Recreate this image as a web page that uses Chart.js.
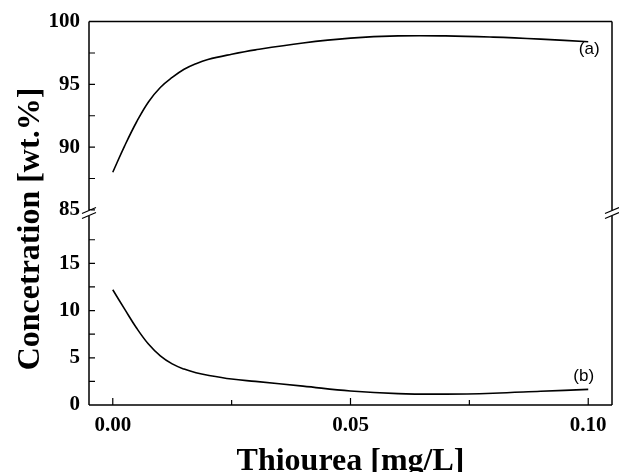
<!DOCTYPE html>
<html>
<head>
<meta charset="utf-8">
<script src="https://cdn.jsdelivr.net/npm/chart.js@4/dist/chart.umd.min.js"></script>
<style>
  body { margin: 0; background: #fff; }
  .chart-con { width: 619px; height: 472px; }
</style>
</head>
<body>
<div class="chart-con"><canvas id="chart"></canvas></div>
<script>
// thiourea dose [mg/L]
const thiourea = [0, 0.0025, 0.005, 0.0075, 0.01, 0.0125, 0.015, 0.0175, 0.02, 0.025, 0.03, 0.04, 0.05, 0.06, 0.07, 0.08, 0.09, 0.1]
// curve (a), upper panel [wt.%]
const curveA = [88.0, 90.1, 92.0, 93.6, 94.75, 95.55, 96.2, 96.65, 96.98, 97.4, 97.75, 98.3, 98.68, 98.86, 98.86, 98.76, 98.6, 98.4]
// curve (b), lower panel [wt.%]
const curveB = [12.2, 10.15, 8.15, 6.45, 5.2, 4.35, 3.8, 3.42, 3.15, 2.75, 2.5, 2.0, 1.48, 1.2, 1.15, 1.25, 1.45, 1.65]

const xTicks = [0, 0.025, 0.05, 0.075, 0.1]
const topTicks = [85, 87.5, 90, 92.5, 95, 97.5, 100]
const bottomTicks = [0, 2.5, 5, 7.5, 10, 12.5, 15, 17.5]

const tickFont = { family: "'Liberation Serif', 'Times New Roman', serif", size: 21, weight: 'bold' }

const framePlugin = {
  id: 'frame',
  afterDraw(chart) {
    const { ctx, chartArea: { left, right, top, bottom }, scales } = chart
    const xs = scales.x, yT = scales.yTop, yB = scales.yBot
    ctx.save()
    ctx.strokeStyle = '#000'
    ctx.lineWidth = 1.5

    // frame
    ctx.beginPath()
    ctx.moveTo(left, top); ctx.lineTo(right, top)
    ctx.moveTo(left, top); ctx.lineTo(left, bottom)
    ctx.moveTo(right, top); ctx.lineTo(right, bottom)
    ctx.moveTo(left, bottom); ctx.lineTo(right, bottom)
    ctx.stroke()

    // inward ticks
    ctx.lineWidth = 1.2
    ctx.beginPath()
    topTicks.forEach(v => { const y = yT.getPixelForValue(v); if (v < 100) { ctx.moveTo(left, y); ctx.lineTo(left + 6, y) } })
    bottomTicks.forEach(v => { const y = yB.getPixelForValue(v); if (v > 0) { ctx.moveTo(left, y); ctx.lineTo(left + 6, y) } })
    xTicks.forEach((v, i) => { const x = xs.getPixelForValue(v); const len = i % 2 ? 5 : 7; ctx.moveTo(x, bottom); ctx.lineTo(x, bottom - len) })
    ctx.stroke()

    // axis break marks
    const cy = (yT.getPixelForValue(85) + yB.getPixelForValue(20)) / 2
    ;[left, right].forEach(x => {
      ctx.fillStyle = '#fff'
      ctx.fillRect(x - 2, cy - 3, 4, 6)
      ctx.lineWidth = 1.2
      ctx.beginPath()
      ctx.moveTo(x - 7, cy + 0.5); ctx.lineTo(x + 7, cy - 5.5)
      ctx.moveTo(x - 7, cy + 5.5); ctx.lineTo(x + 7, cy - 0.5)
      ctx.stroke()
    })

    // curve labels
    const xEnd = xs.getPixelForValue(thiourea[thiourea.length - 1])
    ctx.fillStyle = '#000'
    ctx.font = "17px 'Liberation Sans', Arial, sans-serif"
    ctx.textAlign = 'center'
    ctx.textBaseline = 'middle'
    ctx.fillText('(a)', xEnd + 1, yT.getPixelForValue(curveA[curveA.length - 1]) + 8)
    ctx.fillText('(b)', xEnd - 4.5, yB.getPixelForValue(curveB[curveB.length - 1]) - 13)

    // axis titles
    ctx.font = "bold 32px 'Liberation Serif', 'Times New Roman', serif"
    ctx.textBaseline = 'alphabetic'
    ctx.fillText('Thiourea [mg/L]', (left + right) / 2, 470)
    ctx.translate(39, 229)
    ctx.rotate(-Math.PI / 2)
    ctx.fillText('Concetration [wt.%]', 0, 0)
    ctx.restore()
  }
}

const lineDataset = (label, values, axis) => ({
  label: label,
  data: thiourea.map((x, i) => ({ x: x, y: values[i] })),
  yAxisID: axis,
  borderColor: '#000',
  borderWidth: 1.6,
  pointRadius: 0,
  tension: 0.4,
  fill: false,
})

const yBase = (min, max, ticks, weight) => ({
  type: 'linear',
  position: 'left',
  stack: 'conc',
  stackWeight: weight,
  min: min,
  max: max,
  afterBuildTicks: s => { s.ticks = ticks.map(v => ({ value: v })) },
  afterFit: s => { s.width = 89 },
  grid: { display: false, drawTicks: false },
  border: { display: false },
  ticks: {
    color: '#000',
    font: tickFont,
    padding: 9,
    callback: v => (v % 5 === 0 ? String(v) : ''),
  },
})

const chart = new Chart(document.getElementById('chart'), {
  type: 'line',
  data: {
    datasets: [
      lineDataset('(b)', curveB, 'yBot'),
      lineDataset('(a)', curveA, 'yTop'),
    ]
  },
  options: {
    responsive: true,
    maintainAspectRatio: false,
    animation: false,
    layout: { padding: { top: 20, right: 7, left: 0, bottom: 0 } },
    plugins: {
      legend: { display: false },
      tooltip: { enabled: false },
    },
    scales: {
      x: {
        type: 'linear',
        min: -0.005,
        max: 0.105,
        afterBuildTicks: s => { s.ticks = xTicks.map(v => ({ value: v })) },
        afterFit: s => { s.height = 67 },
        grid: { display: false, drawTicks: false },
        border: { display: false },
        ticks: {
          color: '#000',
          font: tickFont,
          padding: 8,
          maxRotation: 0,
          callback: v => ([0, 0.05, 0.1].includes(v) ? v.toFixed(2) : ''),
        },
      },
      yBot: yBase(0, 20, bottomTicks, 1),
      yTop: yBase(84.5, 100, topTicks, 1.03),
    }
  },
  plugins: [framePlugin],
})
</script>
</body>
</html>
